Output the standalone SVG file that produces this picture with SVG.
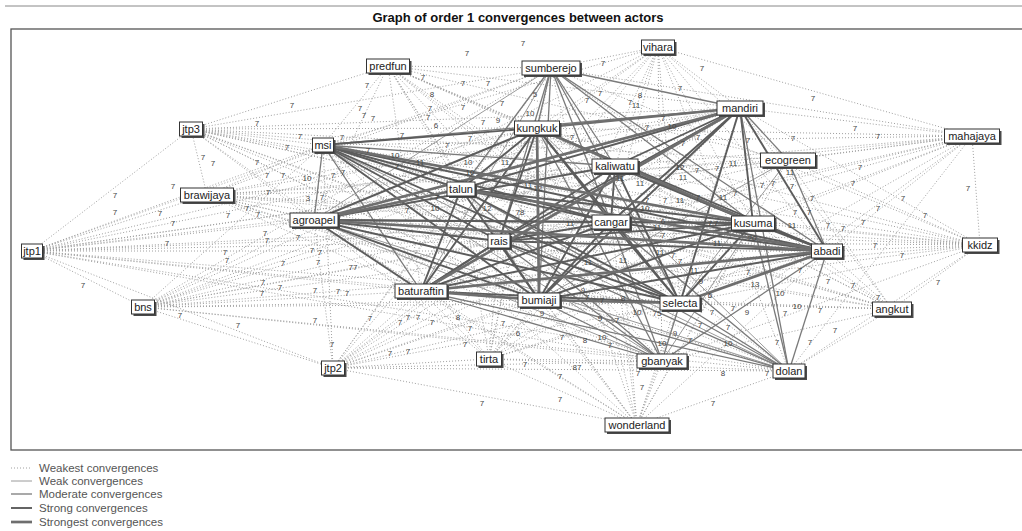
<svg xmlns="http://www.w3.org/2000/svg" width="1022" height="531" viewBox="0 0 1022 531">
<style>
.title{font-family:"Liberation Sans",Arial,sans-serif;font-size:13px;font-weight:bold;fill:#111}
.frame{fill:none;stroke:#555;stroke-width:1.3}
.d{fill:none;stroke:#a0a0a0;stroke-width:1;stroke-dasharray:1 2}
.w line,.w{stroke:#9a9a9a;stroke-width:1;fill:none}
.m line,.m{stroke:#7a7a7a;stroke-width:1.3;fill:none}
.s line,.s{stroke:#5c5c5c;stroke-width:1.9;fill:none}
.x line,.x{stroke:#6e6e6e;stroke-width:2.7;fill:none}
.node rect.sh{fill:#4a4a4a}
.node rect.bx{fill:#fff;stroke:#333;stroke-width:1}
.node text{font-family:"Liberation Sans",Arial,sans-serif;font-size:11px;fill:#222;text-anchor:middle}
.el text{font-family:"Liberation Sans",Arial,sans-serif;font-size:8px;fill:#444;text-anchor:middle}
.lg{font-family:"Liberation Sans",Arial,sans-serif;font-size:11.5px;fill:#555}
</style>
<rect width="1022" height="531" fill="#fff"/>
<line x1="5" y1="6" x2="1022" y2="6" stroke="#888" stroke-width="1"/>
<text class="title" x="518" y="22" text-anchor="middle">Graph of order 1 convergences between actors</text>
<rect class="frame" x="11" y="29" width="1020" height="421"/>

<g id="connectors">
<g id="weakest">
<path class="d" d="M388 66L323 145M388 66L537 128M388 66L551 68M388 66L740 108M388 66L615 166M388 66L788 160M388 66L461 189M388 66L314 220M388 66L499 241M388 66L611 222M388 66L753 223M388 66L827 251M388 66L421 291M388 66L539 300M388 66L680 303M388 66L662 361M388 66L789 371"/>
<path class="d" d="M658 47L323 145M658 47L537 128M658 47L551 68M658 47L740 108M658 47L615 166M658 47L788 160M658 47L461 189M658 47L314 220M658 47L499 241M658 47L611 222M658 47L753 223M658 47L827 251M658 47L421 291M658 47L539 300M658 47L680 303M658 47L662 361M658 47L789 371"/>
<path class="d" d="M191 129L323 145M191 129L537 128M191 129L551 68M191 129L740 108M191 129L615 166M191 129L788 160M191 129L461 189M191 129L314 220M191 129L499 241M191 129L611 222M191 129L753 223M191 129L827 251M191 129L421 291M191 129L539 300M191 129L680 303M191 129L662 361M191 129L789 371"/>
<path class="d" d="M207 195L323 145M207 195L537 128M207 195L551 68M207 195L740 108M207 195L615 166M207 195L788 160M207 195L461 189M207 195L314 220M207 195L499 241M207 195L611 222M207 195L753 223M207 195L827 251M207 195L421 291M207 195L539 300M207 195L680 303M207 195L662 361M207 195L789 371"/>
<path class="d" d="M32 251L323 145M32 251L537 128M32 251L551 68M32 251L740 108M32 251L615 166M32 251L788 160M32 251L461 189M32 251L314 220M32 251L499 241M32 251L611 222M32 251L753 223M32 251L827 251M32 251L421 291M32 251L539 300M32 251L680 303M32 251L662 361M32 251L789 371"/>
<path class="d" d="M143 307L323 145M143 307L537 128M143 307L551 68M143 307L740 108M143 307L615 166M143 307L788 160M143 307L461 189M143 307L314 220M143 307L499 241M143 307L611 222M143 307L753 223M143 307L827 251M143 307L421 291M143 307L539 300M143 307L680 303M143 307L662 361M143 307L789 371"/>
<path class="d" d="M333 368L323 145M333 368L537 128M333 368L551 68M333 368L740 108M333 368L615 166M333 368L788 160M333 368L461 189M333 368L314 220M333 368L499 241M333 368L611 222M333 368L753 223M333 368L827 251M333 368L421 291M333 368L539 300M333 368L680 303M333 368L662 361M333 368L789 371"/>
<path class="d" d="M489 359L323 145M489 359L537 128M489 359L551 68M489 359L740 108M489 359L615 166M489 359L788 160M489 359L461 189M489 359L314 220M489 359L499 241M489 359L611 222M489 359L753 223M489 359L827 251M489 359L421 291M489 359L539 300M489 359L680 303M489 359L662 361M489 359L789 371"/>
<path class="d" d="M637 425L323 145M637 425L537 128M637 425L551 68M637 425L740 108M637 425L615 166M637 425L788 160M637 425L461 189M637 425L314 220M637 425L499 241M637 425L611 222M637 425L753 223M637 425L827 251M637 425L421 291M637 425L539 300M637 425L680 303M637 425L662 361M637 425L789 371"/>
<path class="d" d="M892 309L323 145M892 309L537 128M892 309L551 68M892 309L740 108M892 309L615 166M892 309L788 160M892 309L461 189M892 309L314 220M892 309L499 241M892 309L611 222M892 309L753 223M892 309L827 251M892 309L421 291M892 309L539 300M892 309L680 303M892 309L662 361M892 309L789 371"/>
<path class="d" d="M980 245L323 145M980 245L537 128M980 245L551 68M980 245L740 108M980 245L615 166M980 245L788 160M980 245L461 189M980 245L314 220M980 245L499 241M980 245L611 222M980 245L753 223M980 245L827 251M980 245L421 291M980 245L539 300M980 245L680 303M980 245L662 361M980 245L789 371"/>
<path class="d" d="M972 136L323 145M972 136L537 128M972 136L551 68M972 136L740 108M972 136L615 166M972 136L788 160M972 136L461 189M972 136L314 220M972 136L499 241M972 136L611 222M972 136L753 223M972 136L827 251M972 136L421 291M972 136L539 300M972 136L680 303M972 136L662 361M972 136L789 371"/>
<path class="d" d="M32 251L191 129M32 251L207 195M32 251L143 307M32 251L333 368M191 129L388 66M191 129L207 195M143 307L333 368M658 47L972 136M972 136L980 245M980 245L892 309M637 425L489 359M637 425L333 368M489 359L333 368"/>
</g>
<g id="weak" class="w">
<line x1="789" y1="371" x2="314" y2="220"/><line x1="789" y1="371" x2="323" y2="145"/><line x1="662" y1="361" x2="314" y2="220"/><line x1="662" y1="361" x2="323" y2="145"/><line x1="662" y1="361" x2="753" y2="223"/><line x1="551" y1="68" x2="314" y2="220"/><line x1="551" y1="68" x2="421" y2="291"/><line x1="788" y1="160" x2="539" y2="300"/><line x1="788" y1="160" x2="680" y2="303"/><line x1="789" y1="371" x2="537" y2="128"/>
</g>
<g id="moderate" class="m">
<line x1="551" y1="68" x2="537" y2="128"/><line x1="551" y1="68" x2="461" y2="189"/><line x1="551" y1="68" x2="499" y2="241"/><line x1="551" y1="68" x2="611" y2="222"/><line x1="551" y1="68" x2="753" y2="223"/><line x1="551" y1="68" x2="615" y2="166"/><line x1="551" y1="68" x2="827" y2="251"/><line x1="551" y1="68" x2="680" y2="303"/><line x1="551" y1="68" x2="539" y2="300"/><line x1="551" y1="68" x2="740" y2="108"/>
<line x1="323" y1="145" x2="314" y2="220"/><line x1="323" y1="145" x2="421" y2="291"/><line x1="323" y1="145" x2="615" y2="166"/><line x1="323" y1="145" x2="740" y2="108"/>
<line x1="789" y1="371" x2="740" y2="108"/><line x1="789" y1="371" x2="753" y2="223"/><line x1="789" y1="371" x2="827" y2="251"/><line x1="789" y1="371" x2="539" y2="300"/><line x1="789" y1="371" x2="680" y2="303"/><line x1="789" y1="371" x2="421" y2="291"/><line x1="789" y1="371" x2="499" y2="241"/><line x1="789" y1="371" x2="611" y2="222"/><line x1="789" y1="371" x2="461" y2="189"/>
<line x1="662" y1="361" x2="539" y2="300"/><line x1="662" y1="361" x2="680" y2="303"/><line x1="662" y1="361" x2="421" y2="291"/><line x1="662" y1="361" x2="827" y2="251"/><line x1="662" y1="361" x2="537" y2="128"/><line x1="662" y1="361" x2="461" y2="189"/><line x1="662" y1="361" x2="499" y2="241"/><line x1="662" y1="361" x2="611" y2="222"/>
<line x1="788" y1="160" x2="827" y2="251"/><line x1="788" y1="160" x2="740" y2="108"/>
</g>
<g id="strong" class="s">
<line x1="740" y1="108" x2="461" y2="189"/><line x1="740" y1="108" x2="499" y2="241"/><line x1="740" y1="108" x2="611" y2="222"/><line x1="740" y1="108" x2="680" y2="303"/><line x1="740" y1="108" x2="539" y2="300"/><line x1="740" y1="108" x2="753" y2="223"/><line x1="740" y1="108" x2="827" y2="251"/><line x1="740" y1="108" x2="615" y2="166"/>
<line x1="537" y1="128" x2="421" y2="291"/><line x1="537" y1="128" x2="680" y2="303"/><line x1="537" y1="128" x2="827" y2="251"/><line x1="537" y1="128" x2="499" y2="241"/><line x1="537" y1="128" x2="611" y2="222"/><line x1="537" y1="128" x2="461" y2="189"/><line x1="537" y1="128" x2="314" y2="220"/><line x1="537" y1="128" x2="323" y2="145"/>
<line x1="323" y1="145" x2="461" y2="189"/><line x1="323" y1="145" x2="499" y2="241"/><line x1="323" y1="145" x2="611" y2="222"/><line x1="323" y1="145" x2="827" y2="251"/><line x1="323" y1="145" x2="680" y2="303"/><line x1="323" y1="145" x2="539" y2="300"/>
<line x1="314" y1="220" x2="753" y2="223"/><line x1="314" y1="220" x2="611" y2="222"/><line x1="314" y1="220" x2="499" y2="241"/><line x1="314" y1="220" x2="539" y2="300"/><line x1="314" y1="220" x2="680" y2="303"/><line x1="314" y1="220" x2="615" y2="166"/><line x1="314" y1="220" x2="421" y2="291"/>
<line x1="421" y1="291" x2="680" y2="303"/><line x1="421" y1="291" x2="615" y2="166"/><line x1="421" y1="291" x2="461" y2="189"/><line x1="421" y1="291" x2="611" y2="222"/><line x1="421" y1="291" x2="753" y2="223"/>
<line x1="539" y1="300" x2="827" y2="251"/><line x1="539" y1="300" x2="615" y2="166"/><line x1="539" y1="300" x2="611" y2="222"/><line x1="539" y1="300" x2="753" y2="223"/><line x1="539" y1="300" x2="461" y2="189"/>
<line x1="680" y1="303" x2="753" y2="223"/><line x1="680" y1="303" x2="611" y2="222"/><line x1="680" y1="303" x2="461" y2="189"/><line x1="680" y1="303" x2="499" y2="241"/><line x1="680" y1="303" x2="615" y2="166"/>
<line x1="827" y1="251" x2="753" y2="223"/><line x1="827" y1="251" x2="611" y2="222"/><line x1="827" y1="251" x2="499" y2="241"/><line x1="827" y1="251" x2="615" y2="166"/>
<line x1="461" y1="189" x2="611" y2="222"/><line x1="461" y1="189" x2="753" y2="223"/><line x1="499" y1="241" x2="611" y2="222"/><line x1="499" y1="241" x2="753" y2="223"/><line x1="499" y1="241" x2="539" y2="300"/><line x1="499" y1="241" x2="421" y2="291"/><line x1="611" y1="222" x2="753" y2="223"/><line x1="611" y1="222" x2="615" y2="166"/><line x1="615" y1="166" x2="753" y2="223"/>
</g>
<g id="strongest" class="x">
<line x1="740" y1="108" x2="537" y2="128"/><line x1="537" y1="128" x2="753" y2="223"/><line x1="314" y1="220" x2="827" y2="251"/><line x1="421" y1="291" x2="539" y2="300"/><line x1="539" y1="300" x2="680" y2="303"/><line x1="740" y1="108" x2="314" y2="220"/><line x1="740" y1="108" x2="421" y2="291"/><line x1="537" y1="128" x2="539" y2="300"/><line x1="461" y1="189" x2="827" y2="251"/><line x1="680" y1="303" x2="827" y2="251"/><line x1="314" y1="220" x2="461" y2="189"/><line x1="323" y1="145" x2="753" y2="223"/><line x1="421" y1="291" x2="827" y2="251"/>
</g>
</g>

<g id="edge-labels" class="el">
<text x="467" y="56">7</text><text x="523" y="46">7</text><text x="603" y="66">7</text><text x="702" y="71">7</text><text x="680" y="91">7</text><text x="600" y="96">7</text><text x="587" y="103">7</text><text x="640" y="98">8</text><text x="630" y="105">7</text><text x="636" y="108">11</text><text x="535" y="97">5</text><text x="530" y="116">10</text><text x="813" y="101">7</text><text x="663" y="121">7</text><text x="672" y="129">10</text><text x="647" y="130">7</text><text x="855" y="131">7</text><text x="878" y="139">7</text><text x="793" y="141">7</text><text x="748" y="143">7</text><text x="698" y="140">7</text><text x="683" y="146">7</text><text x="860" y="170">7</text><text x="733" y="166">11</text><text x="697" y="173">7</text><text x="717" y="171">7</text><text x="683" y="180">11</text>
<text x="423" y="80">7</text><text x="367" y="88">7</text><text x="463" y="86">7</text><text x="488" y="86">7</text><text x="432" y="97">8</text><text x="292" y="108">7</text><text x="360" y="111">7</text><text x="364" y="118">7</text><text x="373" y="121">7</text><text x="430" y="111">7</text><text x="463" y="110">7</text><text x="502" y="106">7</text><text x="428" y="120">7</text><text x="436" y="128">6</text><text x="257" y="126">7</text><text x="483" y="125">7</text><text x="498" y="123">9</text><text x="300" y="139">7</text><text x="342" y="140">7</text><text x="402" y="138">7</text><text x="287" y="150">7</text><text x="447" y="148">7</text><text x="470" y="141">7</text><text x="203" y="160">7</text><text x="213" y="166">7</text><text x="257" y="165">7</text><text x="395" y="158">10</text><text x="420" y="165">11</text><text x="468" y="165">10</text><text x="470" y="175">10</text><text x="397" y="169">7</text><text x="368" y="153">7</text><text x="267" y="178">7</text><text x="283" y="178">7</text><text x="307" y="181">10</text><text x="333" y="178">7</text><text x="343" y="175">7</text><text x="528" y="188">11</text><text x="538" y="191">12</text>
<text x="173" y="189">7</text><text x="115" y="198">7</text><text x="268" y="195">7</text><text x="115" y="215">7</text><text x="160" y="216">7</text><text x="173" y="226">7</text><text x="228" y="218">7</text><text x="247" y="211">7</text><text x="258" y="217">7</text><text x="308" y="201">3</text><text x="322" y="200">7</text><text x="167" y="246">7</text><text x="265" y="236">7</text><text x="267" y="243">7</text><text x="298" y="240">7</text><text x="225" y="255">7</text><text x="227" y="263">7</text><text x="283" y="266">7</text><text x="312" y="253">7</text><text x="320" y="255">7</text><text x="318" y="265">7</text><text x="353" y="270">77</text><text x="83" y="288">7</text><text x="263" y="285">7</text><text x="280" y="290">7</text><text x="262" y="296">7</text><text x="315" y="293">7</text><text x="338" y="294">7</text><text x="347" y="296">7</text><text x="180" y="318">7</text><text x="238" y="328">7</text><text x="315" y="323">7</text><text x="370" y="321">7</text><text x="400" y="325">7</text><text x="408" y="320">7</text><text x="418" y="320">7</text><text x="432" y="325">7</text><text x="458" y="320">8</text><text x="470" y="331">7</text><text x="503" y="326">7</text><text x="332" y="347">7</text><text x="390" y="356">7</text><text x="408" y="354">7</text><text x="465" y="347">7</text><text x="482" y="406">7</text>
<text x="437" y="200">7</text><text x="435" y="211">10</text><text x="407" y="213">7</text><text x="487" y="211">12</text><text x="520" y="215">78</text><text x="505" y="165">11</text><text x="572" y="140">7</text><text x="620" y="181">11</text><text x="640" y="186">11</text><text x="647" y="203">7</text><text x="665" y="203">7</text><text x="680" y="203">11</text><text x="698" y="200">7</text><text x="723" y="200">11</text><text x="735" y="196">7</text><text x="645" y="211">10</text><text x="680" y="170">12</text><text x="790" y="175">11</text>
<text x="762" y="188">7</text><text x="773" y="186">7</text><text x="792" y="189">7</text><text x="853" y="186">7</text><text x="968" y="191">7</text><text x="812" y="201">7</text><text x="903" y="201">7</text><text x="878" y="211">7</text><text x="925" y="218">7</text><text x="795" y="215">7</text><text x="809" y="215">7</text><text x="863" y="225">7</text><text x="792" y="228">11</text><text x="828" y="228">7</text><text x="843" y="231">7</text><text x="875" y="248">7</text><text x="902" y="258">7</text><text x="938" y="285">7</text><text x="828" y="284">7</text><text x="853" y="288">7</text><text x="878" y="300">7</text><text x="780" y="296">10</text><text x="797" y="309">10</text><text x="785" y="316">7</text><text x="820" y="313">7</text><text x="835" y="333">7</text><text x="810" y="345">7</text><text x="777" y="345">7</text><text x="748" y="275">7</text><text x="755" y="287">13</text><text x="747" y="315">9</text><text x="733" y="311">7</text><text x="712" y="315">7</text><text x="728" y="330">7</text><text x="728" y="346">10</text><text x="700" y="328">7</text><text x="690" y="343">7</text><text x="675" y="336">9</text><text x="637" y="315">10</text><text x="657" y="316">75</text><text x="542" y="316">9</text><text x="600" y="321">9</text><text x="617" y="323">7</text><text x="562" y="340">7</text><text x="585" y="343">8</text><text x="602" y="340">10</text><text x="610" y="348">7</text><text x="518" y="336">6</text><text x="662" y="346">10</text>
<text x="570" y="226">11</text><text x="657" y="230">11</text><text x="663" y="224">6</text><text x="663" y="238">7</text><text x="710" y="226">7</text><text x="716" y="226">7</text><text x="717" y="246">11</text><text x="752" y="241">20</text><text x="623" y="263">11</text><text x="588" y="265">11</text><text x="660" y="255">11</text><text x="673" y="258">7</text><text x="680" y="264">7</text><text x="694" y="273">11</text><text x="701" y="284">9</text><text x="800" y="273">7</text><text x="710" y="298">6</text><text x="602" y="303">7</text><text x="583" y="293">9</text><text x="623" y="301">8</text><text x="587" y="300">7</text>
<text x="525" y="367">7</text><text x="577" y="370">87</text><text x="560" y="379">7</text><text x="560" y="402">7</text><text x="638" y="376">7</text><text x="642" y="390">7</text><text x="723" y="376">8</text><text x="767" y="376">7</text><text x="713" y="406">7</text>
</g>

<g id="nodes">
<g id="n-predfun" class="node" transform="translate(388,66)"><rect class="sh" x="-19.5" y="-5" width="43" height="14"/><rect class="bx" x="-21.5" y="-7" width="43" height="14"/><text y="4">predfun</text></g>
<g id="n-sumberejo" class="node" transform="translate(551,68)"><rect class="sh" x="-27" y="-5" width="58" height="14"/><rect class="bx" x="-29" y="-7" width="58" height="14"/><text y="4">sumberejo</text></g>
<g id="n-vihara" class="node" transform="translate(658,47)"><rect class="sh" x="-14.5" y="-5" width="33" height="14"/><rect class="bx" x="-16.5" y="-7" width="33" height="14"/><text y="4">vihara</text></g>
<g id="n-mandiri" class="node" transform="translate(740,108)"><rect class="sh" x="-21" y="-5" width="46" height="14"/><rect class="bx" x="-23" y="-7" width="46" height="14"/><text y="4">mandiri</text></g>
<g id="n-kungkuk" class="node" transform="translate(537,128)"><rect class="sh" x="-20.5" y="-5" width="45" height="14"/><rect class="bx" x="-22.5" y="-7" width="45" height="14"/><text y="4">kungkuk</text></g>
<g id="n-mahajaya" class="node" transform="translate(972,136)"><rect class="sh" x="-25.5" y="-5" width="55" height="14"/><rect class="bx" x="-27.5" y="-7" width="55" height="14"/><text y="4">mahajaya</text></g>
<g id="n-ecogreen" class="node" transform="translate(788,160)"><rect class="sh" x="-25.5" y="-5" width="55" height="14"/><rect class="bx" x="-27.5" y="-7" width="55" height="14"/><text y="4">ecogreen</text></g>
<g id="n-kaliwatu" class="node" transform="translate(615,166)"><rect class="sh" x="-21" y="-5" width="46" height="14"/><rect class="bx" x="-23" y="-7" width="46" height="14"/><text y="4">kaliwatu</text></g>
<g id="n-jtp3" class="node" transform="translate(191,129)"><rect class="sh" x="-9.5" y="-5" width="23" height="14"/><rect class="bx" x="-11.5" y="-7" width="23" height="14"/><text y="4">jtp3</text></g>
<g id="n-msi" class="node" transform="translate(323,145)"><rect class="sh" x="-8.5" y="-5" width="21" height="14"/><rect class="bx" x="-10.5" y="-7" width="21" height="14"/><text y="4">msi</text></g>
<g id="n-brawijaya" class="node" transform="translate(207,195)"><rect class="sh" x="-24.5" y="-5" width="53" height="14"/><rect class="bx" x="-26.5" y="-7" width="53" height="14"/><text y="4">brawijaya</text></g>
<g id="n-talun" class="node" transform="translate(461,189)"><rect class="sh" x="-12" y="-5" width="28" height="14"/><rect class="bx" x="-14" y="-7" width="28" height="14"/><text y="4">talun</text></g>
<g id="n-agroapel" class="node" transform="translate(314,220)"><rect class="sh" x="-22" y="-5" width="48" height="14"/><rect class="bx" x="-24" y="-7" width="48" height="14"/><text y="4">agroapel</text></g>
<g id="n-rais" class="node" transform="translate(499,241)"><rect class="sh" x="-9" y="-5" width="22" height="14"/><rect class="bx" x="-11" y="-7" width="22" height="14"/><text y="4">rais</text></g>
<g id="n-jtp1" class="node" transform="translate(32,251)"><rect class="sh" x="-8.5" y="-5" width="21" height="14"/><rect class="bx" x="-10.5" y="-7" width="21" height="14"/><text y="4">jtp1</text></g>
<g id="n-baturaftin" class="node" transform="translate(421,291)"><rect class="sh" x="-24" y="-5" width="52" height="14"/><rect class="bx" x="-26" y="-7" width="52" height="14"/><text y="4">baturaftin</text></g>
<g id="n-bns" class="node" transform="translate(143,307)"><rect class="sh" x="-9.5" y="-5" width="23" height="14"/><rect class="bx" x="-11.5" y="-7" width="23" height="14"/><text y="4">bns</text></g>
<g id="n-cangar" class="node" transform="translate(611,222)"><rect class="sh" x="-17" y="-5" width="38" height="14"/><rect class="bx" x="-19" y="-7" width="38" height="14"/><text y="4">cangar</text></g>
<g id="n-kusuma" class="node" transform="translate(753,223)"><rect class="sh" x="-19.5" y="-5" width="43" height="14"/><rect class="bx" x="-21.5" y="-7" width="43" height="14"/><text y="4">kusuma</text></g>
<g id="n-abadi" class="node" transform="translate(827,251)"><rect class="sh" x="-13.5" y="-5" width="31" height="14"/><rect class="bx" x="-15.5" y="-7" width="31" height="14"/><text y="4">abadi</text></g>
<g id="n-kkidz" class="node" transform="translate(980,245)"><rect class="sh" x="-15.5" y="-5" width="35" height="14"/><rect class="bx" x="-17.5" y="-7" width="35" height="14"/><text y="4">kkidz</text></g>
<g id="n-bumiaji" class="node" transform="translate(539,300)"><rect class="sh" x="-19" y="-5" width="42" height="14"/><rect class="bx" x="-21" y="-7" width="42" height="14"/><text y="4">bumiaji</text></g>
<g id="n-selecta" class="node" transform="translate(680,303)"><rect class="sh" x="-18" y="-5" width="40" height="14"/><rect class="bx" x="-20" y="-7" width="40" height="14"/><text y="4">selecta</text></g>
<g id="n-angkut" class="node" transform="translate(892,309)"><rect class="sh" x="-17.5" y="-5" width="39" height="14"/><rect class="bx" x="-19.5" y="-7" width="39" height="14"/><text y="4">angkut</text></g>
<g id="n-gbanyak" class="node" transform="translate(662,361)"><rect class="sh" x="-23" y="-5" width="50" height="14"/><rect class="bx" x="-25" y="-7" width="50" height="14"/><text y="4">gbanyak</text></g>
<g id="n-dolan" class="node" transform="translate(789,371)"><rect class="sh" x="-14" y="-5" width="32" height="14"/><rect class="bx" x="-16" y="-7" width="32" height="14"/><text y="4">dolan</text></g>
<g id="n-wonderland" class="node" transform="translate(637,425)"><rect class="sh" x="-30" y="-5" width="64" height="14"/><rect class="bx" x="-32" y="-7" width="64" height="14"/><text y="4">wonderland</text></g>
<g id="n-jtp2" class="node" transform="translate(333,368)"><rect class="sh" x="-9.5" y="-5" width="23" height="14"/><rect class="bx" x="-11.5" y="-7" width="23" height="14"/><text y="4">jtp2</text></g>
<g id="n-tirta" class="node" transform="translate(489,359)"><rect class="sh" x="-10.5" y="-5" width="25" height="14"/><rect class="bx" x="-12.5" y="-7" width="25" height="14"/><text y="4">tirta</text></g>
</g>

<g id="legend">
<line class="d" x1="11" y1="468" x2="32" y2="468"/><text class="lg" x="39" y="472">Weakest convergences</text>
<line class="w" x1="11" y1="481" x2="32" y2="481"/><text class="lg" x="39" y="485">Weak convergences</text>
<line class="m" x1="11" y1="494" x2="32" y2="494"/><text class="lg" x="39" y="498">Moderate convergences</text>
<line class="s" x1="11" y1="508" x2="32" y2="508"/><text class="lg" x="39" y="512">Strong convergences</text>
<line class="x" x1="11" y1="522" x2="32" y2="522"/><text class="lg" x="39" y="526">Strongest convergences</text>
</g>
</svg>
